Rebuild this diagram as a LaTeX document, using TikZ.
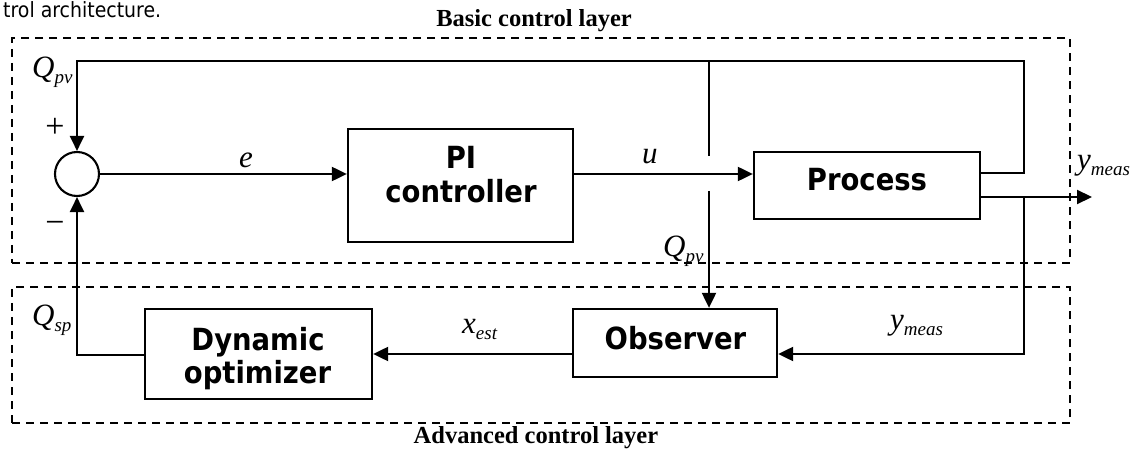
\documentclass[tikz,border=0pt]{standalone}
\usepackage{fontspec}
\setmainfont{Liberation Serif}
\newfontfamily\boxfont[FakeStretch=0.9]{DejaVu Sans}
\usetikzlibrary{arrows.meta}
\newcommand\mlab[2]{\textit{#1}\raisebox{-6pt}{\fontsize{19}{19}\selectfont\textit{#2}}}
\tikzset{
  wire/.style={line width=2.1pt},
  arr/.style={wire, -{Triangle[length=15pt,width=14pt]}},
  blk/.style={draw, line width=2.3pt, inner sep=0pt},
  btxt/.style={font={\boxfont\bfseries\fontsize{30.5}{34}\selectfont}, anchor=base, inner sep=0pt},
  mtxt/.style={font={\fontsize{31}{31}\selectfont}, anchor=base west, inner sep=0pt},
  layer/.style={draw, line width=1.8pt, dash pattern=on 8pt off 6pt, inner sep=0pt},
  laytxt/.style={font={\bfseries\fontsize{24.5}{25}\selectfont}, anchor=base, inner sep=0pt},
  sign/.style={font={\fontsize{34}{34}\selectfont}, inner sep=0pt}
}
\begin{document}
\begin{tikzpicture}[x=1pt,y=-1pt]
\useasboundingbox (0,0) rectangle (1138,457);
% caption fragment
\node[font={\boxfont\fontsize{21}{21}\selectfont}, anchor=base west, inner sep=0pt] (capfrag) at (3,17.5) {trol architecture.};
% layers
\node[layer, minimum width=1058pt, minimum height=225pt] (basicL) at (541,150.5) {};
\node[layer, minimum width=1058pt, minimum height=136pt] (advL) at (541,355) {};
\node[laytxt] (basicT) at (534,27) {Basic control layer};
\node[laytxt] (advT) at (536,443) {Advanced control layer};
% blocks
\node[circle, draw, line width=2.1pt, minimum size=44pt, inner sep=0pt] (sum) at (77,174) {};
\node[blk, minimum width=225pt, minimum height=113pt] (pi) at (460.5,185.5) {};
\node[blk, minimum width=226pt, minimum height=67pt] (proc) at (867,185.5) {};
\node[blk, minimum width=204pt, minimum height=68pt] (obs) at (675,343) {};
\node[blk, minimum width=227pt, minimum height=90pt] (dyn) at (258.5,354) {};
\node[btxt] (piA) at (461,169) {PI};
\node[btxt] (piB) at (461,203) {controller};
\node[btxt] (procT) at (867,191) {Process};
\node[btxt] (obsT) at (675.5,349) {Observer};
\node[btxt] (dynA) at (258,350) {Dynamic};
\node[btxt] (dynB) at (257.5,383) {optimizer};
% coordinates
\coordinate (tl) at (77,61);
\coordinate (fbR) at (1024,173);
\coordinate (tap) at (709,61);
\coordinate (gapT) at (709,156);
\coordinate (gapB) at (709,191);
\coordinate (yout) at (1092,197);
\coordinate (br) at (1024,197);
\coordinate (obsin) at (1024,354);
\coordinate (bl) at (77,355);
% connectors
\draw[arr] (sum.east) -- (pi.west |- sum.east);
\draw[arr] (pi.east |- sum) -- (proc.west |- sum);
\draw[arr] (proc.east |- fbR) -- (fbR) -- (fbR |- tl) -- (tl) -- (sum.north);
\draw[wire] (tap) -- (gapT);
\draw[arr] (gapB) -- (tap |- obs.north);
\draw[arr] (proc.east |- yout) -- (yout);
\draw[arr] (br) -- (obsin) -- (obs.east |- obsin);
\draw[arr] (obs.west |- obsin) -- (dyn.east |- obsin);
\draw[arr] (dyn.west |- bl) -- (bl) -- (sum.south);
% labels
\node[mtxt] (lQpv1) at (32,78) {\mlab{Q}{pv}};
\node[mtxt] (lQpv2) at (663,256) {\mlab{Q}{pv}};
\node[mtxt] (lQsp) at (32,325) {\mlab{Q}{sp}};
\node[mtxt] (le) at (239,168) {\textit{e}};
\node[mtxt] (lu) at (642,164) {\textit{u}};
\node[mtxt] (lx) at (462,333) {\mlab{x}{est}};
\node[mtxt] (ly1) at (890,329) {\mlab{y}{meas}};
\node[mtxt] (ly2) at (1077,170) {\mlab{y}{meas}};
\node[sign] (plus) at (55,128) {+};
\node[sign] (minus) at (55,227) {\textminus};
\end{tikzpicture}
\end{document}
